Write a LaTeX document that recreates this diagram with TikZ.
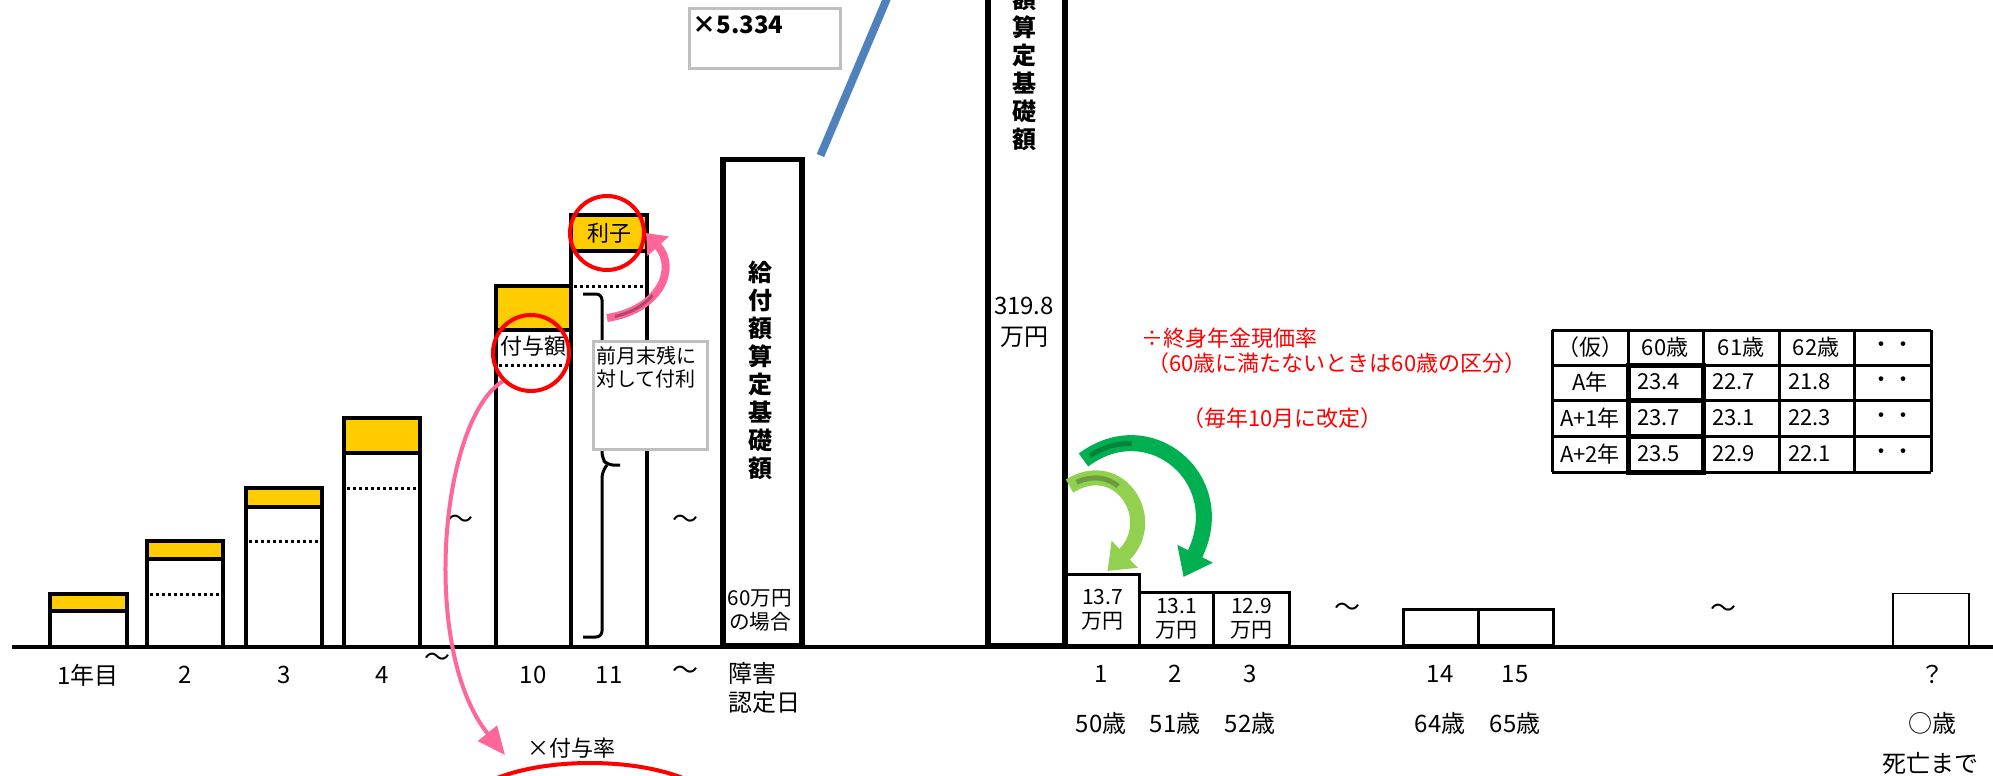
\documentclass[tikz,border=0pt]{standalone}
\usepackage{fontspec}
\setmainfont{Noto Sans CJK JP}
\usepackage{xcolor}
\usetikzlibrary{positioning,calc,arrows.meta}

\definecolor{kiiro}{HTML}{FFCC00}
\definecolor{momo}{HTML}{FF6699}
\definecolor{koimidori}{HTML}{00B050}
\definecolor{kimidori}{HTML}{92D050}
\definecolor{ao}{HTML}{4F81BD}
\definecolor{hai}{HTML}{BFBFBF}

\begin{document}
\begin{tikzpicture}[x=0.5pt, y=-0.5pt,
		bar/.style={line width=1.75pt},
		dotline/.style={line width=1.5pt, dash pattern=on 1.5pt off 1.5pt},
		bigbox/.style={draw, line width=2.75pt, inner sep=0pt, anchor=south west},
		midbox/.style={draw, line width=1.5pt, inner sep=0pt, anchor=south west, align=center, font=\fontsize{10.5}{12}\selectfont},
		lbl/.style={font=\fontsize{12}{14}\selectfont, inner sep=0pt},
		redtxt/.style={text=red, font=\fontsize{11}{13}\selectfont, anchor=west, inner sep=0pt},
		tbl/.style={font=\fontsize{11}{13}\selectfont, inner sep=0pt},
		tline/.style={line width=1.5pt},
		maru/.style={draw=red, circle, line width=2pt, inner sep=0pt},
		grayframe/.style={draw=hai, line width=1.3pt, fill=white, inner sep=0pt, anchor=north west},
		nami/.style={font=\fontsize{13}{15}\selectfont, inner sep=0pt},
		kage/.style={line width=2.5pt, dash pattern=on 22pt off 400pt, dash phase=-4pt},
	]
	\useasboundingbox (0,0) rectangle (1993,776);
	\clip (0,0) rectangle (1993,776);

	\foreach \l/\r/\t/\k in {50/127/594/611, 147/223/541/559, 246/322/488/507, 344/420/418/453, 496/571/286/330, 571/647/215/251}
	{
		\fill[kiiro] (\l,\t) rectangle (\r,\k);
		\draw[bar] (\l,647) -- (\l,\t) -- (\r,\t) -- (\r,647);
		\draw[bar] (\l,\k) -- (\r,\k);
	}
	\foreach \l/\r/\d in {147/223/594, 246/322/541, 344/420/488, 496/571/365, 571/647/286}
		\draw[dotline] (\l+3,\d) -- (\r-2,\d);
	\draw[bar] (12,647) -- (1993,647);

	\foreach \x/\t [count=\i] in {88/1年目, 185/2, 284/3, 382/4, 533/10, 609/11}
		\node[lbl, name=nen\i] at (\x,675) {\t};
	\node[lbl, name=shogai, anchor=west, align=left, font=\fontsize{12}{14.5}\selectfont] at (728,688) {障害\\認定日};

	\node[nami, name=nami1] at (460,522) {～};
	\node[nami, name=nami2] at (437,660) {～};
	\node[nami, name=nami3] at (685,522) {～};
	\node[nami, name=nami4] at (685,673) {～};
	\node[nami, name=nami5] at (1347,610) {～};
	\node[nami, name=nami6] at (1723,611) {～};

	\node[tbl, name=riko] at (609,233) {利子};
	\node[tbl, name=fuyo] at (533,346) {付与額};
	\node[maru, name=maru1, minimum size=38pt] at (531,353) {};
	\node[maru, name=maru2, minimum size=37pt] at (607,233) {};
	\draw[red, line width=2pt] (590,813) ellipse [x radius=130, y radius=50];

	\draw[line width=1.5pt, rounded corners=3pt] (583,294) -- (602,294) -- (602,458) -- (607,465) -- (620,465);
	\draw[line width=1.5pt, rounded corners=3pt] (607,465) -- (602,472) -- (602,637) -- (583,637);
	\node[grayframe, name=futo, minimum width=57pt, minimum height=54pt] at (592,340) {};
	\node[name=futotxt, anchor=north west, align=left, inner sep=0pt, font=\fontsize{10}{11.5}\selectfont] at (596,346) {前月末残に\\対して付利};

	\draw[momo, line width=4pt, -{Triangle[length=9pt, width=14pt]}] ($(futo.north west)+(15,-22)$) .. controls (660,310) and (678,268) .. (maru2.east);
	\draw[momo!70!black, kage, line width=1.5pt] ($(futo.north west)+(15,-22)$) .. controls (660,310) and (678,268) .. (maru2.east);
	\coordinate (fuyoritsu) at (505,755);
	\draw[momo, line width=2pt, -{Triangle[length=14pt, width=12pt]}] (maru1.south west) .. controls (440,420) and (420,650) .. (fuyoritsu);
	\node[tbl, name=ritsu, anchor=west] at (527,748) {×付与率};

	\node[bigbox, name=kyufu, minimum width=39.5pt, minimum height=243pt] at (720,648) {};
	\node[name=kyufutxt, align=center, inner sep=0pt, font=\bfseries\fontsize{12}{14}\selectfont] at (760,370) {給\\付\\額\\算\\定\\基\\礎\\額};
	\node[name=kyufu60, align=center, inner sep=0pt, font=\fontsize{10.3}{12}\selectfont] at (760,610) {60万円\\の場合};

	\coordinate (aosaki) at (888,-4);
	\draw[ao, line width=4pt] ($(kyufu.north east)+(16,-1)$) -- (aosaki);
	\node[grayframe, name=bairitsu, minimum width=75.5pt, minimum height=30pt, fill=none] at (688,7) {};
	\node[name=bairitsutxt, anchor=west, inner sep=0pt, font=\bfseries\fontsize{12}{14}\selectfont] at (692,25) {×5.334};

	\node[bigbox, name=kiso, minimum width=38.5pt, minimum height=340pt] at (985,648) {};
	\node[name=kisotxt, align=center, inner sep=0pt, font=\bfseries\fontsize{12}{14}\selectfont] at (1024,41) {給\\付\\額\\算\\定\\基\\礎\\額};
	\node[name=kisoval, align=center, inner sep=0pt, font=\fontsize{12}{15.5}\selectfont] at (1024,322) {319.8\\万円};

	\node[midbox, name=y1, minimum width=37pt, minimum height=35.5pt] at (1064,647) {13.7\\万円};
	\node[midbox, name=y2, minimum width=37pt, minimum height=26.5pt] at (1138,647) {13.1\\万円};
	\node[midbox, name=y3, minimum width=38pt, minimum height=26.5pt] at (1212,647) {12.9\\万円};
	\node[midbox, name=y14, minimum width=37.5pt, minimum height=18pt] at (1402,647) {};
	\node[midbox, name=y15, minimum width=37.5pt, minimum height=18pt] at (1477,647) {};
	\node[midbox, name=ylast, line width=0.75pt, minimum width=38pt, minimum height=26.5pt] at (1892,647) {};

	\foreach \x/\t/\s [count=\i] in {1101/1/50歳, 1175/2/51歳, 1250/3/52歳, 1440/14/64歳, 1515/15/65歳, 1932/？/○歳}
	{
		\node[lbl, name=kai\i] at (\x,674) {\t};
		\node[lbl, name=sai\i] at (\x,723) {\s};
	}
	\node[lbl, name=shibo] at (1930,763) {死亡まで};

	\draw[kimidori, line width=7.5pt, -{Triangle[length=12pt, width=18pt]}] ($(kiso.south east)+(2,-162)$) .. controls (1120,455) and (1160,520) .. ($(y1.north)+(5,-2)$);
	\draw[kimidori!75!black, kage] ($(kiso.south east)+(2,-162)$) .. controls (1120,455) and (1160,520) .. ($(y1.north)+(5,-2)$);
	\draw[koimidori, line width=8pt, -{Triangle[length=13pt, width=19pt]}] ($(kiso.south east)+(16,-188)$) .. controls (1150,410) and (1232,480) .. ($(y2.north)+(7,-14)$);
	\draw[koimidori!75!black, kage] ($(kiso.south east)+(16,-188)$) .. controls (1150,410) and (1232,480) .. ($(y2.north)+(7,-14)$);

	\node[redtxt, name=gen1] at (1141,338) {÷終身年金現価率};
	\node[redtxt, name=gen2] at (1147,363) {（60歳に満たないときは60歳の区分）};
	\node[redtxt, name=gen3] at (1182,418) {（毎年10月に改定）};

	\foreach \x in {1552,1628,1703,1779,1854,1931}
		\draw[tline] (\x,330) -- (\x,472);
	\foreach \y in {330,365,400,436,472}
		\draw[tline] (1552,\y) -- (1931,\y);
	\draw[line width=2.5pt] (1628,365) rectangle (1703,472);
	\draw[line width=2.5pt] (1628,400) -- (1703,400) (1628,436) -- (1703,436);
	\foreach \x/\t [count=\i] in {1590/（仮）, 1665/60歳, 1741/61歳, 1816/62歳, 1892/・・}
		\node[tbl, name=head\i] at (\x,347) {\t};
	\foreach \y/\n/\a/\b/\c [count=\i] in {382/A年/23.4/22.7/21.8, 418/A+1年/23.7/23.1/22.3, 454/A+2年/23.5/22.9/22.1}
	{
		\node[tbl, name=gyo\i] at (1590,\y) {\n};
		\node[tbl, name=ka\i, anchor=west] at (1637,\y) {\a};
		\node[tbl, name=kb\i, anchor=west] at (1712,\y) {\b};
		\node[tbl, name=kc\i, anchor=west] at (1788,\y) {\c};
		\node[tbl, name=kd\i] at (1892,\y) {・・};
	}
\end{tikzpicture}
\end{document}
